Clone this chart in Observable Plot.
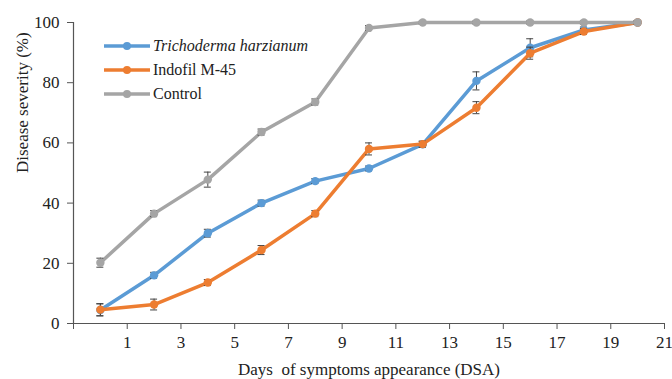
<!DOCTYPE html>
<html>
<head>
<meta charset="utf-8">
<script src="https://cdn.jsdelivr.net/npm/d3@7"></script>
<script src="https://cdn.jsdelivr.net/npm/@observablehq/plot@0.6"></script>
<style>
  html, body { margin: 0; padding: 0; background: #fff; }
  #wrap { position: relative; width: 672px; height: 379px; font-family: "Liberation Serif", "DejaVu Serif", serif; }
  #legend { position: absolute; left: 103px; top: 34px; font-size: 16px; color: #222; }
  .row { display: flex; align-items: center; height: 24px; }
  .row svg { margin-right: 2px; }
  svg text { font-family: "Liberation Serif", "DejaVu Serif", serif; }
</style>
</head>
<body>
<div id="wrap"><div id="legend"></div></div>
<script>
const days = [0, 2, 4, 6, 8, 10, 12, 14, 16, 18, 20];
const seriesNames = ["Trichoderma harzianum", "Indofil M-45", "Control"];
const seriesColors = ["#5B9BD5", "#ED7D31", "#A5A5A5"];
const trichoderma = [4.5, 16, 30, 40, 47.3, 51.5, 59.5, 80.6, 91.6, 97.5, 100];
const indofil = [4.6, 6.3, 13.6, 24.4, 36.5, 58, 59.6, 71.7, 89.8, 97, 100];
const control = [20.2, 36.5, 47.8, 63.6, 73.6, 98.2, 100, 100, 100, 100, 100];
const errTrichoderma = [2, 1, 1.3, 1, 0.8, 0.8, 1, 3, 3, 1, 0.5];
const errIndofil = [2, 1.8, 1, 1.5, 1, 2, 1, 2, 2, 1, 0.5];
const errControl = [1.5, 1, 2.5, 1, 1, 0.8, 0.5, 0.5, 0.5, 0.5, 0.5];
const xTicks = [-1, 1, 3, 5, 7, 9, 11, 13, 15, 17, 19, 21];
const yTicks = [0, 20, 40, 60, 80, 100];

const values = [trichoderma, indofil, control];
const errs = [errTrichoderma, errIndofil, errControl];
const data = [];
seriesNames.forEach((s, i) => days.forEach((d, j) => data.push({series: s, day: d, v: values[i][j], e: errs[i][j]})));

const capHalf = 0.13; // cap half-width in days
const marks = [];
seriesNames.forEach((s, i) => {
  const sd = data.filter(d => d.series === s);
  marks.push(Plot.line(sd, {x: "day", y: "v", stroke: seriesColors[i], strokeWidth: 3.5, strokeLinejoin: "round"}));
  marks.push(Plot.ruleX(sd, {x: "day", y1: d => d.v - d.e, y2: d => d.v + d.e, stroke: "#444", strokeWidth: 1}));
  marks.push(Plot.ruleY(sd, {y: d => d.v - d.e, x1: d => d.day - capHalf, x2: d => d.day + capHalf, stroke: "#444", strokeWidth: 1}));
  marks.push(Plot.ruleY(sd, {y: d => d.v + d.e, x1: d => d.day - capHalf, x2: d => d.day + capHalf, stroke: "#444", strokeWidth: 1}));
  marks.push(Plot.dot(sd, {x: "day", y: "v", r: 4.2, fill: seriesColors[i], stroke: "none"}));
});

const serif = "'Liberation Serif', 'DejaVu Serif', serif";
const chart = Plot.plot({
  width: 672,
  height: 379,
  marginLeft: 73,
  marginRight: 8,
  marginTop: 22,
  marginBottom: 56,
  style: {fontFamily: serif, fontSize: "17px", color: "#222", background: "#fff"},
  x: {domain: [-1, 21], label: null},
  y: {domain: [0, 100], label: null},
  marks: [
    Plot.ruleY([0], {stroke: "#555", strokeWidth: 1.2}),
    Plot.ruleX([-1], {stroke: "#555", strokeWidth: 1.2}),
    Plot.axisX({ticks: xTicks, tickFormat: d => d === -1 ? "" : String(d), tickSize: 6, tickPadding: 6, stroke: "#555", label: null, fontSize: 17, fontFamily: serif}),
    Plot.axisY({ticks: yTicks, tickSize: 6, tickPadding: 8, stroke: "#555", label: null, fontSize: 17, fontFamily: serif}),
    Plot.text(["Days  of symptoms appearance (DSA)"], {frameAnchor: "bottom", dy: 51, text: d => d, fontSize: 17, fill: "#222", fontFamily: serif}),
    Plot.text(["Disease severity (%)"], {frameAnchor: "left", dx: -51, rotate: -90, text: d => d, fontSize: 17, fill: "#222", fontFamily: serif}),
    ...marks
  ]
});
chart.style.position = "absolute";
chart.style.left = "0";
chart.style.top = "0";
const wrap = document.getElementById("wrap");
wrap.insertBefore(chart, wrap.firstChild);

const legend = document.getElementById("legend");
seriesNames.forEach((s, i) => {
  const row = document.createElement("div");
  row.className = "row";
  row.innerHTML = `<svg width="48" height="12"><line x1="1" y1="6" x2="47" y2="6" stroke="${seriesColors[i]}" stroke-width="3.5"/><circle cx="24" cy="6" r="4" fill="${seriesColors[i]}"/></svg><span style="${i === 0 ? 'font-style:italic' : ''}">${s}</span>`;
  legend.appendChild(row);
});
</script>
</body>
</html>
